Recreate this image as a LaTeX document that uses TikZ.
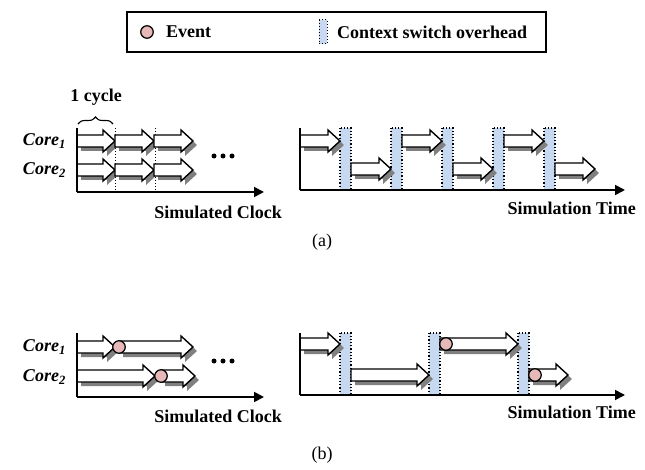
\documentclass[tikz,border=0pt]{standalone}
\usepackage{fontspec}
\setmainfont{Liberation Serif}
\usetikzlibrary{arrows.meta,decorations.pathreplacing}
\definecolor{shadowgray}{RGB}{128,128,128}
\definecolor{ovblue}{RGB}{198,217,241}
\definecolor{evpink}{RGB}{230,185,184}
\tikzset{
  lbl/.style={font=\fontsize{18}{21}\selectfont\bfseries, inner sep=0pt},
  leglbl/.style={font=\fontsize{18}{21}\selectfont\bfseries, inner sep=0pt, anchor=west},
  corelbl/.style={font=\fontsize{18}{21}\selectfont\bfseries\itshape, inner sep=0pt, anchor=east},
  captxt/.style={font=\fontsize{18}{21}\selectfont, inner sep=0pt},
  axisline/.style={line width=1.8pt},
  xaxisline/.style={line width=1.8pt, -{Triangle[length=10pt,width=10pt]}},
  blk/.style={draw=black, fill=white, line width=1.4pt, line join=miter},
  shadefill/.style={fill=shadowgray},
  ovbar/.style={draw=black, fill=ovblue, dotted, line width=1.2pt},
  evdot/.style={circle, draw=black, fill=evpink, line width=1.2pt, minimum size=12.5pt, inner sep=0pt},
  ticklines/.style={dotted, line width=0.9pt},
  dotbul/.style={circle, fill=black, minimum size=5pt, inner sep=0pt},
}
% block arrow: x1, x2, y-centre
\newcommand\blkarrow[3]{%
  \fill[shadefill,shift={(4pt,-4pt)}] (#1,#3-6) -- (#2-12,#3-6) -- (#2-12,#3-11) -- (#2,#3) -- (#2-12,#3+11) -- (#2-12,#3+6) -- (#1,#3+6) -- cycle;
  \draw[blk] (#1,#3-6) -- (#2-12,#3-6) -- (#2-12,#3-11) -- (#2,#3) -- (#2-12,#3+11) -- (#2-12,#3+6) -- (#1,#3+6) -- cycle;
}
\begin{document}
\begin{tikzpicture}[x=1pt,y=-1pt]
\useasboundingbox (0,0) rectangle (645,470);

% ---------- legend ----------
\draw[line width=1.5pt] (127,12) rectangle (546,52);
\node[evdot] (legev) at (147,32) {};
\node[leglbl] (legevt) at (166,32) {Event};
\draw[ovbar, line width=1pt] (319,20) rectangle (327,44);
\node[leglbl] (legovt) at (337,32) {Context switch overhead};

% ---------- (a) left ----------
\coordinate (aLo) at (77,192);
\coordinate (aLt) at (77,128);
\coordinate (aLx) at (264,192);
\draw[ticklines] (115,128) -- (115,192);
\draw[ticklines] (155,128) -- (155,192);
\blkarrow{77}{115}{141}
\blkarrow{115}{154}{141}
\blkarrow{154}{193}{141}
\blkarrow{77}{115}{170}
\blkarrow{115}{154}{170}
\blkarrow{154}{193}{170}
\draw[axisline] (aLt) -- (aLo);
\draw[xaxisline] (aLo) -- (aLx);
\draw[decorate, decoration={brace, amplitude=7pt}, line width=1.1pt] (78,124) -- (113,124);
\node[lbl] (cyc) at (96,97) {1 cycle};
\node[corelbl] (ac1) at (66,141) {Core\textsubscript{\itshape 1}};
\node[corelbl] (ac2) at (66,170) {Core\textsubscript{\itshape 2}};
\node[dotbul] (ad1) at (214,156) {};
\node[dotbul] (ad2) at (223,156) {};
\node[dotbul] (ad3) at (232,156) {};
\node[lbl, anchor=east] (aclk) at (282,212) {Simulated Clock};

% ---------- (a) right ----------
\coordinate (aRo) at (300,190);
\coordinate (aRt) at (300,128);
\coordinate (aRx) at (625,190);
\foreach \bx in {340,391,442,493,544} {\draw[ovbar] (\bx,128) rectangle (\bx+11,190);}
\blkarrow{300}{340}{141}
\blkarrow{351}{391}{169}
\blkarrow{402}{442}{141}
\blkarrow{453}{493}{169}
\blkarrow{504}{544}{141}
\blkarrow{555}{595}{169}
\draw[axisline] (aRt) -- (aRo);
\draw[xaxisline] (aRo) -- (aRx);
\node[lbl, anchor=east] (atime) at (636,208) {Simulation Time};

\node[captxt] (alab) at (322,242) {(a)};

% ---------- (b) left ----------
\coordinate (bLo) at (77,397);
\coordinate (bLt) at (77,333);
\coordinate (bLx) at (264,397);
\blkarrow{77}{115}{347}
\blkarrow{119}{193}{347}
\node[evdot] (bev1) at (119,347) {};
\blkarrow{77}{155}{376}
\blkarrow{161}{195}{376}
\node[evdot] (bev2) at (161,376) {};
\draw[axisline] (bLt) -- (bLo);
\draw[xaxisline] (bLo) -- (bLx);
\node[corelbl] (bc1) at (66,347) {Core\textsubscript{\itshape 1}};
\node[corelbl] (bc2) at (66,377) {Core\textsubscript{\itshape 2}};
\node[dotbul] (bd1) at (214,361) {};
\node[dotbul] (bd2) at (223,361) {};
\node[dotbul] (bd3) at (232,361) {};
\node[lbl, anchor=east] (bclk) at (282,416) {Simulated Clock};

% ---------- (b) right ----------
\coordinate (bRo) at (300,395);
\coordinate (bRt) at (300,333);
\coordinate (bRx) at (625,395);
\foreach \bx in {340,429,518} {\draw[ovbar] (\bx,333) rectangle (\bx+11,395);}
\blkarrow{300}{340}{344}
\blkarrow{351}{429}{375}
\blkarrow{440}{518}{344}
\node[evdot] (bev3) at (446,344) {};
\blkarrow{529}{568}{375}
\node[evdot] (bev4) at (535,375) {};
\draw[axisline] (bRt) -- (bRo);
\draw[xaxisline] (bRo) -- (bRx);
\node[lbl, anchor=east] (btime) at (636,412) {Simulation Time};

\node[captxt] (blab) at (322,455) {(b)};
\end{tikzpicture}
\end{document}
